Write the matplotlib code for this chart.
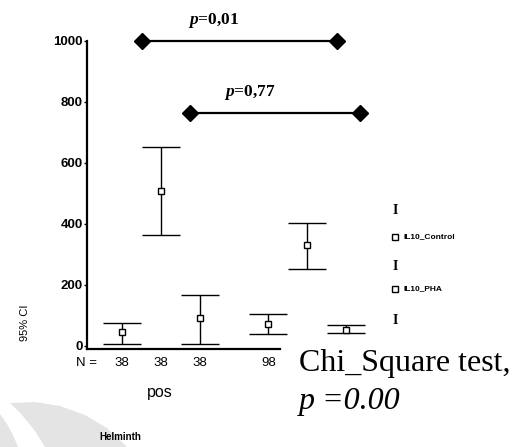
import matplotlib
matplotlib.use('Agg')
import matplotlib.pyplot as plt
from matplotlib.patches import Polygon

# ---- data ----
group_pos = [1, 2, 3, 4.75, 5.75, 6.75]
n_labels = ['38', '38', '38', '98']          # visible N labels (last two hidden by annotation)
means = [46, 508, 92, 72, 331, 52]
upper = [75, 652, 167, 105, 403, 69]
lower = [7, 364, 7, 39, 252, 42]
yticks = [0, 200, 400, 600, 800, 1000]
comp_x0 = [1.51, 2.74]
comp_x1 = [6.51, 7.10]
comp_y = [1000, 764]
comp_p = ['0,01', '0,77']
legend_labels = ['IL10_Control', 'IL10_PHA']

plt.rcParams['mathtext.fontset'] = 'custom'
plt.rcParams['mathtext.it'] = 'Liberation Serif:italic:bold'
plt.rcParams['mathtext.rm'] = 'Liberation Serif:bold'

W, H = 529, 447
fig = plt.figure(figsize=(W / 100, H / 100), dpi=100)

# faint background swoosh (watermark)
bg = fig.add_axes([0, 0, 1, 1])
bg.set_xlim(0, W); bg.set_ylim(H, 0); bg.axis('off')
bg.add_patch(Polygon([(10, 403), (35, 402), (60, 406), (85, 415), (107, 428), (127, 447),
                      (45, 447), (35, 431), (22, 415)], closed=True,
                     facecolor='#e4e4e4', edgecolor='none'))
bg.add_patch(Polygon([(0, 414), (7, 424), (13, 435), (18, 447), (0, 447)], closed=True,
                     facecolor='#e4e4e4', edgecolor='none'))

ax = fig.add_axes([87 / W, (H - 349) / H, (380 - 87) / W, (349 - 30) / H])
ax.set_xlim(0.1, 0.1 + 293 / 39)
ax.set_ylim(-10, 1036)
ax.patch.set_alpha(0)

yerr = [[m - l for m, l in zip(means, lower)], [u - m for u, m in zip(upper, means)]]
ax.errorbar(group_pos, means, yerr=yerr, fmt='s', ms=5, mfc='white', mec='black',
            mew=1.0, ecolor='black', elinewidth=1.0, capsize=14, capthick=1.8, color='black')

for x0, x1, y, p in zip(comp_x0, comp_x1, comp_y, comp_p):
    ax.plot([x0, x1], [y, y], color='black', lw=1.6, marker='D', ms=8, mfc='black', mec='black',
            clip_on=False)
    ax.text((x0 + x1) / 2 - 0.65, y + 35, r'$\mathit{p}$=' + p, ha='center', va='bottom',
            fontsize=12.5, family='Liberation Serif', fontweight='bold')

for s in ['top', 'right']:
    ax.spines[s].set_visible(False)
ax.spines['left'].set_bounds(-10, 1000)
ax.spines['left'].set_linewidth(1.6)
ax.spines['bottom'].set_bounds(0.1, 5.05)
ax.spines['bottom'].set_linewidth(1.6)

ax.set_yticks(yticks)
ax.set_yticklabels([str(v) for v in yticks], family='Liberation Sans', fontsize=9.5,
                   fontweight='bold')
ax.tick_params(axis='y', length=2, width=1, pad=1)
ax.set_xticks(group_pos[:len(n_labels)])
ax.set_xticklabels(n_labels, family='Liberation Sans', fontsize=9.5)
ax.tick_params(axis='x', length=0, pad=6)

fig.text(86 / W, 1 - 363 / H, 'N =', ha='center', va='center', fontsize=9.5, family='Liberation Sans')
fig.text(160 / W, 1 - 393 / H, 'pos', ha='center', va='center', fontsize=11.5, family='Liberation Sans')
fig.text(120 / W, 1 - 437 / H, 'Helminth', ha='center', va='center', fontsize=7,
         family='Liberation Sans', fontweight='bold')
fig.text(25 / W, 1 - 323 / H, '95% CI', ha='center', va='center', rotation=90, fontsize=8,
         family='Liberation Sans')

# legend (SPSS style)
for yy in [210, 266, 320]:
    bg.text(395, yy, 'I', ha='center', va='center', fontsize=10, family='Liberation Serif',
            fontweight='bold', zorder=5)
for yy, lab in zip([237, 289], legend_labels):
    bg.plot([395], [yy], marker='s', ms=5, mfc='white', mec='black', mew=1)
    bg.text(404, yy, lab, ha='left', va='center', fontsize=6, family='Liberation Sans',
            fontweight='bold')

# Chi-square annotation
fig.text(299 / W, 1 - 363 / H, 'Chi_Square test,', ha='left', va='center', fontsize=23,
         family='Liberation Serif', zorder=10,
         bbox=dict(facecolor='white', edgecolor='none', pad=2))
fig.text(299 / W, 1 - 401 / H, 'p =0.00', ha='left', va='center', fontsize=23,
         family='Liberation Serif', style='italic', zorder=10)

bg.set_zorder(0)
fig.savefig('out.png', dpi=100)
